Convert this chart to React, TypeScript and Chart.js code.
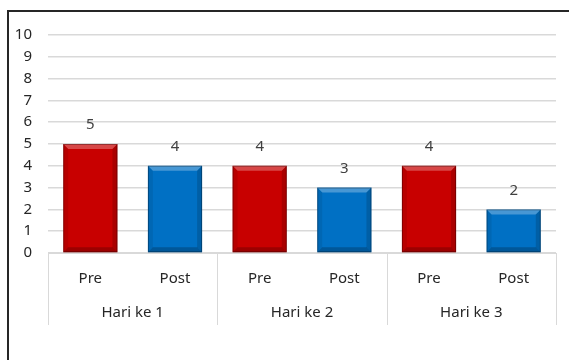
import React, { useEffect, useRef } from "react";
import { Chart, registerables } from "chart.js";
Chart.register(...registerables);

const groups = ["Hari ke 1", "Hari ke 2", "Hari ke 3"];
const phases = ["Pre", "Post"];
const preValues = [5, 4, 4];
const postValues = [4, 3, 2];
const yMin = 0;
const yMax = 10;
const yStep = 1;

const phaseColors = ["#C80000", "#0070C4"];
const FONT = "'Noto Sans', sans-serif";
const FS = 15;

const labels: string[] = [];
const values: number[] = [];
const colors: string[] = [];
groups.forEach((g, gi) => {
  labels.push(phases[0]);
  values.push(preValues[gi]);
  colors.push(phaseColors[0]);
  labels.push(phases[1]);
  values.push(postValues[gi]);
  colors.push(phaseColors[1]);
});

const framePlugin = {
  id: "frame",
  beforeDraw(chart: any) {
    const ctx = chart.ctx;
    ctx.save();
    ctx.fillStyle = "#ffffff";
    ctx.fillRect(0, 0, chart.width, chart.height);
    ctx.fillStyle = "#262626";
    ctx.fillRect(7, 10, 2, chart.height);
    ctx.fillRect(7, 10, chart.width, 2);
    ctx.restore();
  },
};

const bevelPlugin = {
  id: "bevel",
  afterDatasetsDraw(chart: any) {
    const ctx = chart.ctx;
    const meta = chart.getDatasetMeta(0);
    ctx.save();
    meta.data.forEach((bar: any, i: number) => {
      const p = bar.getProps(["x", "y", "base", "width"], true);
      const x0 = p.x - p.width / 2;
      const x1 = p.x + p.width / 2;
      const y0 = p.y;
      const y1 = p.base;
      const b = 5;
      const poly = (pts: number[][], fill: string) => {
        ctx.beginPath();
        ctx.moveTo(pts[0][0], pts[0][1]);
        for (let k = 1; k < pts.length; k++) ctx.lineTo(pts[k][0], pts[k][1]);
        ctx.closePath();
        ctx.fillStyle = fill;
        ctx.fill();
      };
      poly([[x0, y0], [x1, y0], [x1 - b, y0 + b], [x0 + b, y0 + b]], "rgba(255,255,255,0.28)");
      poly([[x0, y0], [x0 + b, y0 + b], [x0 + b, y1 - b], [x0, y1]], "rgba(0,0,0,0.08)");
      poly([[x1, y0], [x1 - b, y0 + b], [x1 - b, y1 - b], [x1, y1]], "rgba(0,0,0,0.15)");
      poly([[x0, y1], [x0 + b, y1 - b], [x1 - b, y1 - b], [x1, y1]], "rgba(0,0,0,0.22)");
      ctx.strokeStyle = "rgba(0,0,0,0.3)";
      ctx.lineWidth = 1;
      ctx.strokeRect(x0 + 0.5, y0 + 0.5, p.width - 1, y1 - y0 - 1);

      ctx.fillStyle = "#404040";
      ctx.font = `${FS}px ${FONT}`;
      ctx.textAlign = "center";
      ctx.textBaseline = "middle";
      ctx.fillText(String(values[i]), p.x, y0 - 19);
    });
    ctx.restore();
  },
};

const axisPlugin = {
  id: "multiAxis",
  afterDraw(chart: any) {
    const ctx = chart.ctx;
    const xs = chart.scales.x;
    const area = chart.chartArea;
    const cat = xs.getPixelForValue(1) - xs.getPixelForValue(0);
    ctx.save();
    ctx.strokeStyle = "#d9d9d9";
    ctx.lineWidth = 1;
    ctx.beginPath();
    ctx.moveTo(area.left, area.bottom + 0.5);
    ctx.lineTo(area.right, area.bottom + 0.5);
    const bottomLine = 325;
    for (let g = 0; g <= groups.length; g++) {
      const bx = Math.round(xs.getPixelForValue(g * 2) - cat / 2) + 0.5;
      ctx.moveTo(bx, area.bottom);
      ctx.lineTo(bx, bottomLine);
    }
    ctx.stroke();

    ctx.fillStyle = "#262626";
    ctx.font = `${FS}px ${FONT}`;
    ctx.textAlign = "center";
    ctx.textBaseline = "middle";
    labels.forEach((l, i) => {
      ctx.fillText(l, xs.getPixelForValue(i), 279);
    });
    groups.forEach((g, gi) => {
      const cx = (xs.getPixelForValue(gi * 2) + xs.getPixelForValue(gi * 2 + 1)) / 2;
      ctx.fillText(g, cx, 313);
    });
    ctx.restore();
  },
};

export default function App() {
  const ref = useRef<HTMLCanvasElement | null>(null);
  useEffect(() => {
    if (!ref.current) return;
    const chart = new Chart(ref.current, {
      type: "bar",
      data: {
        labels,
        datasets: [
          {
            data: values,
            backgroundColor: colors,
            barPercentage: 0.64,
            categoryPercentage: 1,
          },
        ],
      },
      options: {
        animation: false,
        responsive: false,
        maintainAspectRatio: false,
        layout: { padding: { top: 35, right: 13, left: 0, bottom: 0 } },
        plugins: { legend: { display: false }, tooltip: { enabled: false } },
        scales: {
          x: {
            ticks: { display: false },
            grid: { display: false },
            border: { display: false },
            afterFit: (s: any) => {
              s.height = 107;
            },
          },
          y: {
            min: yMin,
            max: yMax,
            ticks: {
              stepSize: yStep,
              color: "#262626",
              font: { family: "'Noto Sans', sans-serif", size: FS },
              padding: 16,
            },
            grid: { color: "#d9d9d9", drawTicks: false, lineWidth: 1.5 },
            border: { display: false },
            afterFit: (s: any) => {
              s.width = 48;
            },
          },
        },
      },
      plugins: [framePlugin, bevelPlugin, axisPlugin],
    });
    return () => chart.destroy();
  }, []);
  return (
    <div style={{ position: "fixed", left: 0, top: 0, width: 569, height: 360, background: "#fff" }}>
      <canvas ref={ref} width={569} height={360} style={{ width: 569, height: 360 }} />
    </div>
  );
}
